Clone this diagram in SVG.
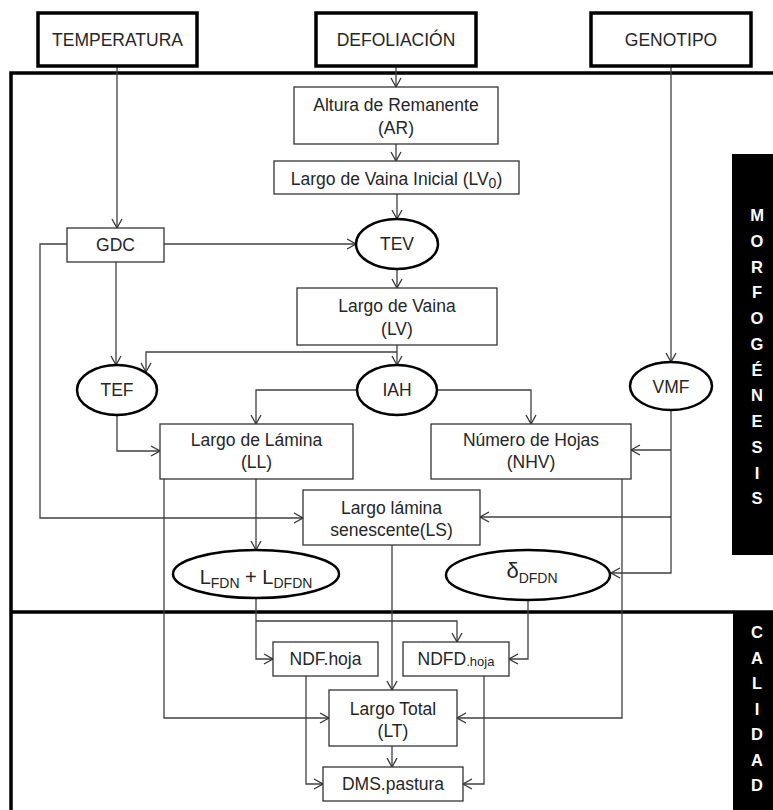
<svg xmlns="http://www.w3.org/2000/svg" width="773" height="810" viewBox="0 0 773 810">
<defs>
<marker id="arr" markerUnits="userSpaceOnUse" markerWidth="12" markerHeight="12" refX="10" refY="6" orient="auto">
<path d="M1,1 L10,6 L1,11" fill="none" stroke="#333" stroke-width="1.3"/>
</marker>
<style>
text{font-family:"Liberation Sans",Arial,sans-serif;font-size:17.5px;fill:#262626;text-anchor:middle}
.box{fill:#fff;stroke:#333;stroke-width:1.3}
.top{fill:#fff;stroke:#000;stroke-width:3.5}
.ell{fill:#fff;stroke:#000;stroke-width:2.5}
.frame{fill:none;stroke:#000;stroke-width:3.5}
.c{fill:none;stroke:#404040;stroke-width:1.3}
.a{marker-end:url(#arr)}
.side{fill:#fff;font-weight:bold;font-size:16.5px}
.sub{font-size:14px}
</style>
</defs>
<rect width="773" height="810" fill="#fff"/>

<g id="frame">
<path class="frame" d="M11,810 V73 H773"/>
<path class="frame" d="M11,612 H773"/>
</g>

<g id="connectors">
<path class="c a" d="M396,66 V87"/>
<path class="c a" d="M396,144 V161"/>
<path class="c a" d="M397,194 V219"/>
<path class="c a" d="M117,66 V228"/>
<path class="c a" d="M164,244 H356"/>
<path class="c a" d="M67,244 H40 V518 H303"/>
<path class="c a" d="M116,262 V365"/>
<path class="c a" d="M397,269 V288"/>
<path class="c a" d="M397,345 V365"/>
<path class="c a" d="M397,352 H146 V372"/>
<path class="c a" d="M357,390 H256 V424"/>
<path class="c a" d="M437,390 H531 V424"/>
<path class="c a" d="M117,415 V451 H160"/>
<path class="c a" d="M671,66 V362"/>
<path class="c a" d="M671,411 V573 H611"/>
<path class="c a" d="M671,450 H631"/>
<path class="c a" d="M671,517 H480"/>
<path class="c a" d="M256,479 V550"/>
<path class="c a" d="M164,479 V718 H329"/>
<path class="c a" d="M256,598 V659 H273"/>
<path class="c a" d="M256,621 H457 V642"/>
<path class="c a" d="M392,545 V690"/>
<path class="c a" d="M528,600 V659 H509"/>
<path class="c a" d="M622,479 V718 H457"/>
<path class="c a" d="M392,746 V767"/>
<path class="c a" d="M306,676 V784 H323"/>
<path class="c a" d="M484,676 V784 H463"/>
</g>

<g id="temperatura"><rect class="top" x="38" y="13" width="159" height="53"/><text x="117.5" y="46">TEMPERATURA</text></g>
<g id="defoliacion"><rect class="top" x="316" y="13" width="160" height="53"/><text x="396" y="46">DEFOLIACIÓN</text></g>
<g id="genotipo"><rect class="top" x="591" y="13" width="160" height="53"/><text x="671" y="46">GENOTIPO</text></g>

<g id="ar"><rect class="box" x="294" y="87" width="204" height="57"/><text x="396" y="111">Altura de Remanente</text><text x="396" y="134">(AR)</text></g>
<g id="lv0"><rect class="box" x="274" y="161" width="245" height="33"/><text x="396.5" y="185">Largo de Vaina Inicial (LV<tspan class="sub" font-size="12px" dy="3">0</tspan><tspan dy="-3">)</tspan></text></g>
<g id="gdc"><rect class="box" x="67" y="228" width="97" height="34"/><text x="115.5" y="251">GDC</text></g>
<g id="tev"><ellipse class="ell" cx="397" cy="244" rx="41" ry="25"/><text x="397" y="250">TEV</text></g>
<g id="lv"><rect class="box" x="297" y="288" width="200" height="57"/><text x="397" y="312">Largo de Vaina</text><text x="397" y="335">(LV)</text></g>
<g id="tef"><ellipse class="ell" cx="117" cy="390" rx="40" ry="25"/><text x="117" y="396">TEF</text></g>
<g id="iah"><ellipse class="ell" cx="397" cy="390" rx="40" ry="25"/><text x="397" y="396">IAH</text></g>
<g id="vmf"><ellipse class="ell" cx="671" cy="386" rx="41" ry="24"/><text x="671" y="393">VMF</text></g>
<g id="ll"><rect class="box" x="160" y="424" width="193" height="55"/><text x="256.5" y="446">Largo de Lámina</text><text x="256.5" y="468">(LL)</text></g>
<g id="nhv"><rect class="box" x="431" y="424" width="200" height="55"/><text x="531" y="446">Número de Hojas</text><text x="531" y="468">(NHV)</text></g>
<g id="ls"><rect class="box" x="303" y="490" width="177" height="55"/><text x="391.5" y="514">Largo lámina</text><text x="391.5" y="536">senescente(LS)</text></g>
<g id="lfdn"><ellipse class="ell" cx="256" cy="574" rx="83" ry="24"/><text x="256" y="584"><tspan font-size="20px">L</tspan><tspan class="sub" dy="4">FDN</tspan><tspan font-size="20px" dy="-4"> + L</tspan><tspan class="sub" dy="4">DFDN</tspan></text></g>
<g id="dfdn"><ellipse class="ell" cx="528" cy="575" rx="82" ry="25"/><text x="532" y="578"><tspan font-size="22px">δ</tspan><tspan class="sub" dy="5">DFDN</tspan></text></g>
<g id="ndf"><rect class="box" x="273" y="642" width="105" height="34"/><text x="325.5" y="665">NDF.hoja</text></g>
<g id="ndfd"><rect class="box" x="403" y="642" width="106" height="34"/><text x="456" y="665">NDFD<tspan font-size="13px" dy="1">.hoja</tspan></text></g>
<g id="lt"><rect class="box" x="329" y="690" width="128" height="56"/><text x="393" y="715">Largo Total</text><text x="393" y="737">(LT)</text></g>
<g id="dms"><rect class="box" x="323" y="767" width="140" height="34"/><text x="393" y="790">DMS.pastura</text></g>

<g id="morfogenesis">
<rect x="732" y="154" width="41" height="401" fill="#000"/>
<text class="side" x="757" y="221">M</text>
<text class="side" x="757" y="246.5">O</text>
<text class="side" x="757" y="272.5">R</text>
<text class="side" x="757" y="298">F</text>
<text class="side" x="757" y="324">O</text>
<text class="side" x="757" y="349.5">G</text>
<text class="side" x="757" y="375.5">É</text>
<text class="side" x="757" y="401">N</text>
<text class="side" x="757" y="427">E</text>
<text class="side" x="757" y="452.5">S</text>
<text class="side" x="757" y="478.5">I</text>
<text class="side" x="757" y="504">S</text>
</g>
<g id="calidad">
<rect x="733" y="613" width="40" height="197" fill="#000"/>
<text class="side" x="757" y="638">C</text>
<text class="side" x="757" y="663.5">A</text>
<text class="side" x="757" y="689">L</text>
<text class="side" x="757" y="714.5">I</text>
<text class="side" x="757" y="740">D</text>
<text class="side" x="757" y="765.5">A</text>
<text class="side" x="757" y="791">D</text>
</g>
</svg>
